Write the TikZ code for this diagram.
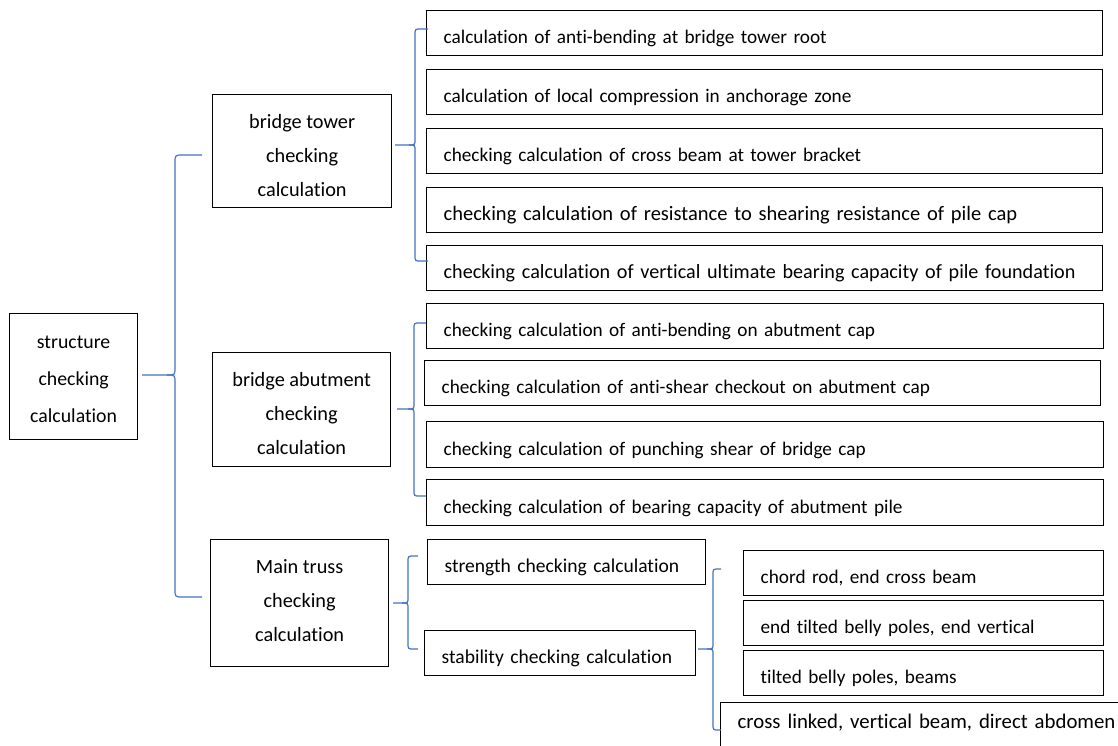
\documentclass[tikz,border=0pt]{standalone}
\usepackage{fontspec}
\setmainfont{Carlito}[Ligatures=NoCommon]
\definecolor{braceblue}{RGB}{68,114,196}
\tikzset{
  box/.style={draw=black, line width=1.3pt, inner sep=0pt, anchor=north west,
    font=\fontsize{20.3}{34}\selectfont},
  leaf/.style={draw=black, line width=1.3pt, inner ysep=0pt, inner xsep=17pt, anchor=north west,
    align=left, text height=21pt, text depth=0pt, font=\fontsize{19.25}{24}\selectfont},
  brc/.style={draw=braceblue, line width=1.2pt}
}
% tip x, tip y, vertical x, top y, bottom y, end x, radius
\newcommand\mybrace[7]{%
  \draw[brc] (#1,#2) -- (#3-#7,#2) .. controls (#3,#2) .. (#3,#2-#7) -- (#3,#4+#7)
    .. controls (#3,#4) .. (#3+#7,#4) -- (#6,#4);
  \draw[brc] (#3-#7,#2) .. controls (#3,#2) .. (#3,#2+#7) -- (#3,#5-#7)
    .. controls (#3,#5) .. (#3+#7,#5) -- (#6,#5);
}
% centred block of lines, baseline at the first line
\newcommand\cblock[2]{\parbox[t]{#1pt}{\centering #2}}
\begin{document}
\begin{tikzpicture}[x=1pt,y=-1pt]
\clip (0,0) rectangle (1118,745);
\fill[white] (0,0) rectangle (1118,745);

% root
\node[box, minimum width=128pt, minimum height=126pt, text height=35pt, text depth=91pt,
  font=\fontsize{19.8}{36.7}\selectfont] (root) at (9,313) {\cblock{124}{structure\\checking\\calculation}};

% second tier
\node[box, minimum width=179pt, minimum height=113pt, text height=34pt, text depth=79pt] (tower) at (212,94) {\cblock{170}{bridge tower\\checking\\calculation}};
\node[box, minimum width=178pt, minimum height=114pt, text height=33.5pt, text depth=80.5pt] (abut) at (212,352) {\cblock{172}{bridge abutment\\checking\\calculation}};
\node[box, minimum width=178pt, minimum height=127pt, text height=33.5pt, text depth=93.5pt] (truss) at (210,539) {\cblock{170}{Main truss\\checking\\calculation}};

% tower leaves
\node[leaf, text width=642pt, minimum height=45pt] (t1) at (426,10) {calculation of anti-bending at bridge tower root};
\node[leaf, text width=642pt, minimum height=45pt] (t2) at (426,69) {calculation of local compression in anchorage zone};
\node[leaf, text width=642pt, minimum height=45pt] (t3) at (426,128) {checking calculation of cross beam at tower bracket};
\node[leaf, text width=642pt, minimum height=45pt, font=\fontsize{20.5}{24}\selectfont] (t4) at (426,187) {checking calculation of resistance to shearing resistance of pile cap};
\node[leaf, text width=642pt, minimum height=45pt, font=\fontsize{20.15}{24}\selectfont] (t5) at (426,245) {checking calculation of vertical ultimate bearing capacity of pile foundation};

% abutment leaves
\node[leaf, text width=643pt, minimum height=45pt] (a1) at (426,303) {checking calculation of anti-bending on abutment cap};
\node[leaf, text width=642pt, minimum height=45pt] (a2) at (424,360) {checking calculation of anti-shear checkout on abutment cap};
\node[leaf, text width=643pt, minimum height=46pt] (a3) at (426,421) {checking calculation of punching shear of bridge cap};
\node[leaf, text width=643pt, minimum height=46pt] (a4) at (426,479) {checking calculation of bearing capacity of abutment pile};

% truss leaves
\node[leaf, text width=244pt, minimum height=45pt, font=\fontsize{19.55}{24}\selectfont] (s1) at (427,539) {strength checking calculation};
\node[leaf, text width=237pt, minimum height=45pt, font=\fontsize{19.55}{24}\selectfont] (s2) at (424,630) {stability checking calculation};

% stability sub-leaves
\node[leaf, text width=326pt, minimum height=45pt] (c1) at (743,550) {chord rod, end cross beam};
\node[leaf, text width=326pt, minimum height=45pt] (c2) at (743,600) {end tilted belly poles, end vertical};
\node[leaf, text width=326pt, minimum height=45pt] (c3) at (743,650) {tilted belly poles, beams};
\node[leaf, text width=400pt, inner ysep=0pt, text height=26pt, text depth=30pt,
  font=\fontsize{20.8}{24}\selectfont] (c4) at (720,702) {cross linked, vertical beam, direct abdomen};

% braces
\mybrace{142}{375}{175}{155}{597}{202}{8}
\mybrace{395}{145}{415}{29}{261}{428}{6}
\mybrace{397}{409}{414}{323}{496}{426}{6}
\mybrace{393}{603}{408}{556}{649}{418}{6}
\mybrace{698}{649}{713}{569}{730}{721}{6}
\end{tikzpicture}
\end{document}
